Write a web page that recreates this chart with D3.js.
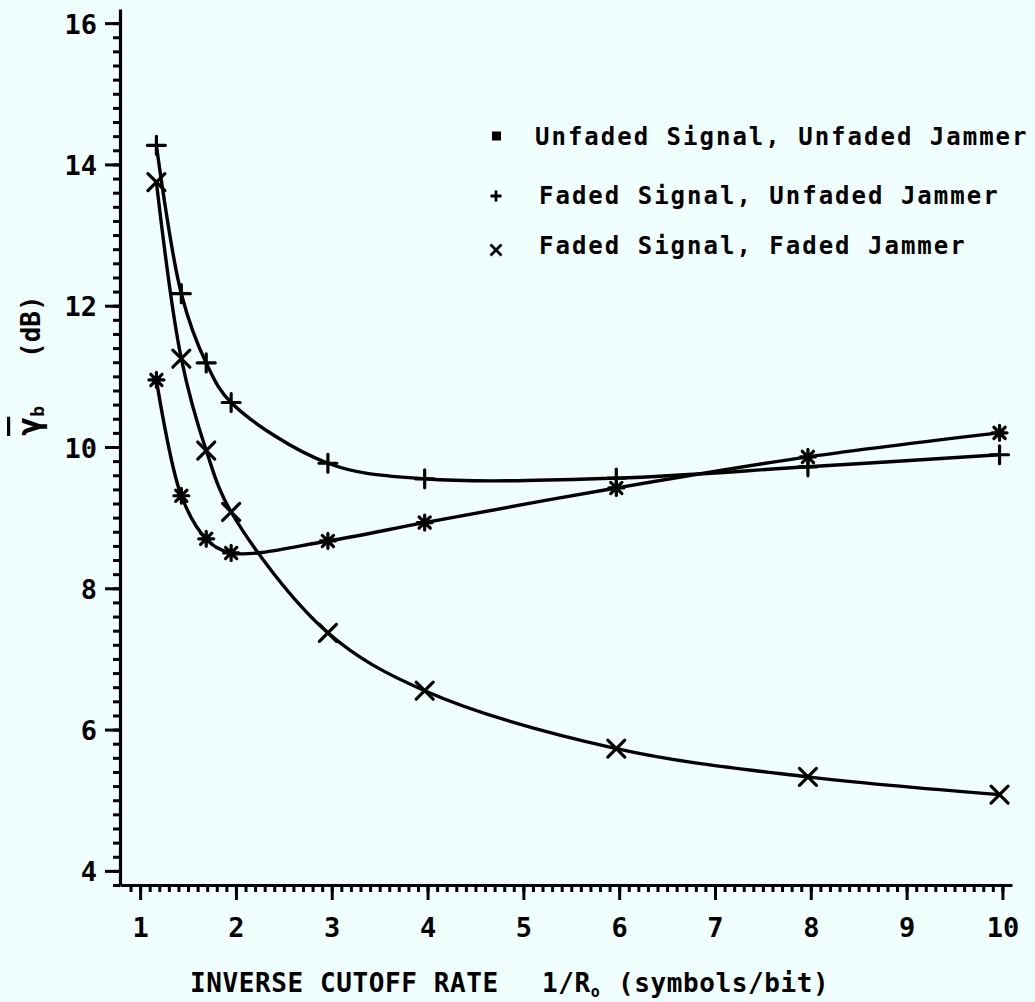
<!DOCTYPE html>
<html>
<head>
<meta charset="utf-8">
<script src="https://cdn.jsdelivr.net/npm/d3@7"></script>
<style>
  body { margin: 0; background: #f0fefe; }
  svg { display: block; background: #f0fefe; }
  text { font-family: "DejaVu Sans Mono", monospace; font-weight: bold; fill: #000; }
</style>
</head>
<body>
<svg width="1035" height="1002"></svg>
<script>
// data
var xVals = [1.17, 1.43, 1.69, 1.95, 2.96, 3.97, 5.97, 7.97, 9.97];
var unfadedUnfaded = [10.95, 9.31, 8.70, 8.50, 8.67, 8.93, 9.42, 9.86, 10.20];
var fadedUnfaded = [14.27, 12.17, 11.19, 10.63, 9.77, 9.55, 9.56, 9.72, 9.89];
var fadedFaded = [13.75, 11.25, 9.95, 9.08, 7.37, 6.55, 5.73, 5.33, 5.08];

var seriesNames = ["Unfaded Signal, Unfaded Jammer", "Faded Signal, Unfaded Jammer", "Faded Signal, Faded Jammer"];
var seriesMarks = ["star", "plus", "cross"];

var xMajor = [1, 2, 3, 4, 5, 6, 7, 8, 9, 10];
var yMajor = [4, 6, 8, 10, 12, 14, 16];

var svg = d3.select("svg");

var x = d3.scaleLinear().domain([0.79, 10.1]).range([120, 1012]);
var y = d3.scaleLinear().domain([3.8, 16.2]).range([885, 9]);

// minor tick lists (0.1 on x, 0.2 on y)
var xMinor = d3.range(9, 101).map(function (d) { return d / 10; });
var yMinor = d3.range(19, 81).map(function (d) { return d / 5; });

function styleAxis(g) {
  g.select(".domain").attr("stroke", "#000").attr("stroke-width", 3.2);
  g.selectAll(".tick line").attr("stroke", "#000").attr("stroke-width", 3);
  g.selectAll(".tick text").style("font-size", "27px").attr("font-family", null);
}

// x axis
svg.append("g").attr("transform", "translate(0,885)")
  .call(d3.axisBottom(x).tickValues(xMinor).tickSize(7).tickSizeOuter(0).tickFormat(""))
  .call(styleAxis);
var xa = svg.append("g").attr("transform", "translate(0,885)")
  .call(d3.axisBottom(x).tickValues(xMajor).tickSize(15).tickSizeOuter(0).tickPadding(18).tickFormat(d3.format("d")))
  .call(styleAxis);
xa.select(".domain").remove();

// y axis
svg.append("g").attr("transform", "translate(120,0)")
  .call(d3.axisLeft(y).tickValues(yMinor).tickSize(7).tickSizeOuter(0).tickFormat(""))
  .call(styleAxis);
var ya = svg.append("g").attr("transform", "translate(120,0)")
  .call(d3.axisLeft(y).tickValues(yMajor).tickSize(15).tickSizeOuter(0).tickPadding(8).tickFormat(d3.format("d")))
  .call(styleAxis);
ya.select(".domain").remove();
ya.selectAll(".tick text").attr("dy", "0.37em");

// curves
var line = d3.line()
  .x(function (d) { return x(d[0]); })
  .y(function (d) { return y(d[1]); })
  .curve(d3.curveCatmullRom.alpha(0.5));

var allSeries = [unfadedUnfaded, fadedUnfaded, fadedFaded];

allSeries.forEach(function (vals) {
  var pts = xVals.map(function (xv, i) { return [xv, vals[i]]; });
  svg.append("path").datum(pts)
    .attr("d", line)
    .attr("fill", "none")
    .attr("stroke", "#000")
    .attr("stroke-width", 3.4)
    .attr("stroke-linejoin", "round");
});

// marker shapes
function markPath(type, r) {
  var p = d3.path();
  if (type == "plus" || type == "star") {
    p.moveTo(-r, 0); p.lineTo(r, 0);
    p.moveTo(0, -r); p.lineTo(0, r);
  }
  if (type == "cross" || type == "star") {
    var k = (type == "star") ? r * 0.75 : r;
    p.moveTo(-k, -k); p.lineTo(k, k);
    p.moveTo(-k, k); p.lineTo(k, -k);
  }
  return p.toString();
}

allSeries.forEach(function (vals, s) {
  var r = seriesMarks[s] == "star" ? 7.5 : (seriesMarks[s] == "plus" ? 9 : 8.5);
  svg.append("g").selectAll("path")
    .data(vals)
    .enter().append("path")
    .attr("transform", function (d, i) { return "translate(" + x(xVals[i]) + "," + y(d) + ")"; })
    .attr("d", markPath(seriesMarks[s], r))
    .attr("stroke", "#000")
    .attr("stroke-width", 3.2)
    .attr("stroke-linecap", "round");
});

// legend
var legY = [136, 196, 250];
var legTextY = [145, 204, 254];
var leg = svg.append("g");
seriesNames.forEach(function (name, i) {
  if (seriesMarks[i] == "star") {
    leg.append("rect")
      .attr("x", 492).attr("y", legY[i] - 4.5)
      .attr("width", 9).attr("height", 9)
      .attr("fill", "#000");
  } else {
    leg.append("path")
      .attr("transform", "translate(496," + legY[i] + ")")
      .attr("d", markPath(seriesMarks[i], 5.5))
      .attr("stroke", "#000")
      .attr("stroke-width", 2.8);
  }
  leg.append("text")
    .attr("x", i == 0 ? 535 : 539)
    .attr("y", legTextY[i])
    .style("font-size", "24px")
    .style("letter-spacing", "2px")
    .text(name);
});

// x axis title
var xt = svg.append("g").style("font-size", "26px").style("letter-spacing", "0.6px");
xt.append("text").attr("x", 190).attr("y", 992).text("INVERSE CUTOFF RATE");
var rt = xt.append("text").attr("x", 542).attr("y", 992);
rt.append("tspan").text("1/R");
rt.append("tspan").attr("dy", 5).style("font-size", "15px").text("o");
xt.append("text").attr("x", 618).attr("y", 992).text("(symbols/bit)");

// y axis title (rotated)
var yt = svg.append("g").attr("transform", "translate(40,0) rotate(-90)").style("font-size", "26px");
var gt = yt.append("text").attr("x", -436).attr("y", 0);
gt.append("tspan").style("text-decoration", "overline").style("font-size", "32px").text("γ");
gt.append("tspan").attr("dy", 4).style("font-size", "18px").text("b");
yt.append("text").attr("x", -358).attr("y", 0).text("(dB)");
</script>
</body>
</html>
